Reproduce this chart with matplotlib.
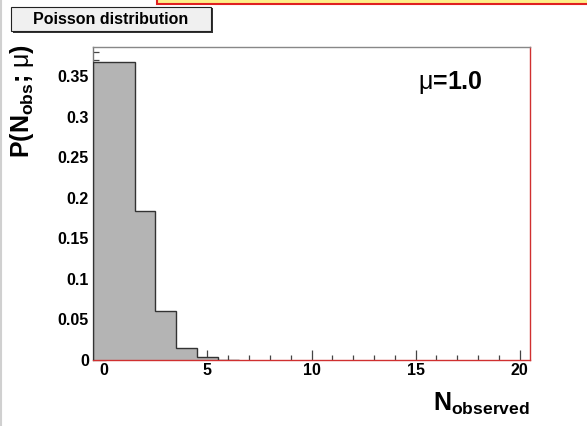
import numpy as np
import matplotlib
matplotlib.use("Agg")
import matplotlib.pyplot as plt
from matplotlib.patches import Rectangle
from matplotlib.lines import Line2D
from matplotlib.ticker import MultipleLocator

# ---- data ----
n_obs = [0, 1, 2, 3, 4, 5, 6]
prob = [0.368, 0.368, 0.184, 0.061, 0.0153, 0.0031, 0.0005]
x_ticks = [0, 5, 10, 15, 20]
y_ticks = [0, 0.05, 0.1, 0.15, 0.2, 0.25, 0.3, 0.35]
y_ticklabels = ["0", "0.05", "0.1", "0.15", "0.2", "0.25", "0.3", "0.35"]
title_text = "Poisson distribution"
mu_text = r"$\mu$=1.0"
x_label = r"N$_{\mathbf{observed}}$"
y_label = r"P(N$_{\mathbf{obs}}$; $\mu$)"

plt.rcParams['font.family'] = ['Liberation Sans', 'DejaVu Sans']
plt.rcParams['font.weight'] = 'bold'
plt.rcParams['mathtext.fontset'] = 'custom'
plt.rcParams['mathtext.rm'] = 'Liberation Sans:weight=normal'
plt.rcParams['mathtext.bf'] = 'Liberation Sans:bold'
plt.rcParams['mathtext.it'] = 'Liberation Sans:weight=normal'

W, H = 587, 426
fig = plt.figure(figsize=(W / 100, H / 100), dpi=100)
fig.patch.set_facecolor('white')

def fx(px):
    return px / W

def fy(py):
    return 1 - py / H

ax = fig.add_axes([fx(93), fy(360), fx(530) - fx(93), fy(47) - fy(360)])

edges = np.concatenate([np.array(n_obs) - 0.5, [n_obs[-1] + 0.5]])
ax.stairs(prob, edges, fill=True, color='#b4b4b4', zorder=2)
ax.stairs(prob, edges, baseline=0, color='#333333', lw=1.0, zorder=3)

ax.set_xlim(-0.5, 20.5)
ax.set_ylim(0, 0.386)
ax.set_xticks(x_ticks)
ax.set_xticklabels([str(t) for t in x_ticks])
ax.xaxis.set_minor_locator(MultipleLocator(1))
ax.set_yticks(y_ticks)
ax.set_yticklabels(y_ticklabels)
ax.yaxis.set_minor_locator(MultipleLocator(0.01))

ax.tick_params(axis='x', which='major', direction='in', length=7.2, width=0.9,
               color='#444444', labelsize=11.5, pad=2)
ax.tick_params(axis='x', which='minor', direction='in', length=3.6, width=0.9,
               color='#444444')
ax.tick_params(axis='y', which='major', direction='in', length=9.2, width=0.9,
               color='#444444', labelsize=11.5, pad=3)
ax.tick_params(axis='y', which='minor', direction='in', length=4.4, width=0.9,
               color='#444444')
for lab in ax.get_xticklabels() + ax.get_yticklabels():
    lab.set_fontweight('bold')

ax.spines['left'].set_color('#777777')
ax.spines['top'].set_color('#888888')
ax.spines['bottom'].set_color('#d03030')
ax.spines['right'].set_color('#d03030')
for s in ax.spines.values():
    s.set_linewidth(1.0)

ax.text(0.817, 0.885, mu_text, transform=ax.transAxes, fontsize=18,
        ha='center', va='center', fontweight='bold')

# axis titles
fig.text(fx(22), fy(44), y_label, rotation=90, ha='center', va='top',
         fontsize=18, fontweight='bold')
fig.text(fx(530), fy(411), x_label, ha='right', va='baseline', fontsize=18,
         fontweight='bold')

# title box with shadow
fig.patches.append(Rectangle((fx(12.5), fy(32.5)), fx(211) - fx(11), fy(7) - fy(31),
                             transform=fig.transFigure, facecolor='#333333',
                             edgecolor='none', zorder=5))
fig.patches.append(Rectangle((fx(11), fy(31)), fx(211) - fx(11), fy(7) - fy(31),
                             transform=fig.transFigure, facecolor='#f0f0f0',
                             edgecolor='#222222', lw=0.8, zorder=6))
fig.text(fx(111), fy(19), title_text, ha='center', va='center', fontsize=11.5,
         fontweight='bold', zorder=7)

# red/yellow box cut at the top
fig.patches.append(Rectangle((fx(157), fy(4)), 1.0, 0.05,
                             transform=fig.transFigure, facecolor='#ffee88',
                             edgecolor='#e02020', lw=1.5, zorder=5))

# thin gray line at the left edge
fig.lines.append(Line2D([fx(1), fx(1)], [0, 1], transform=fig.transFigure,
                        color='#d0d0d0', lw=1.5))

fig.savefig('out.png', dpi=100)
